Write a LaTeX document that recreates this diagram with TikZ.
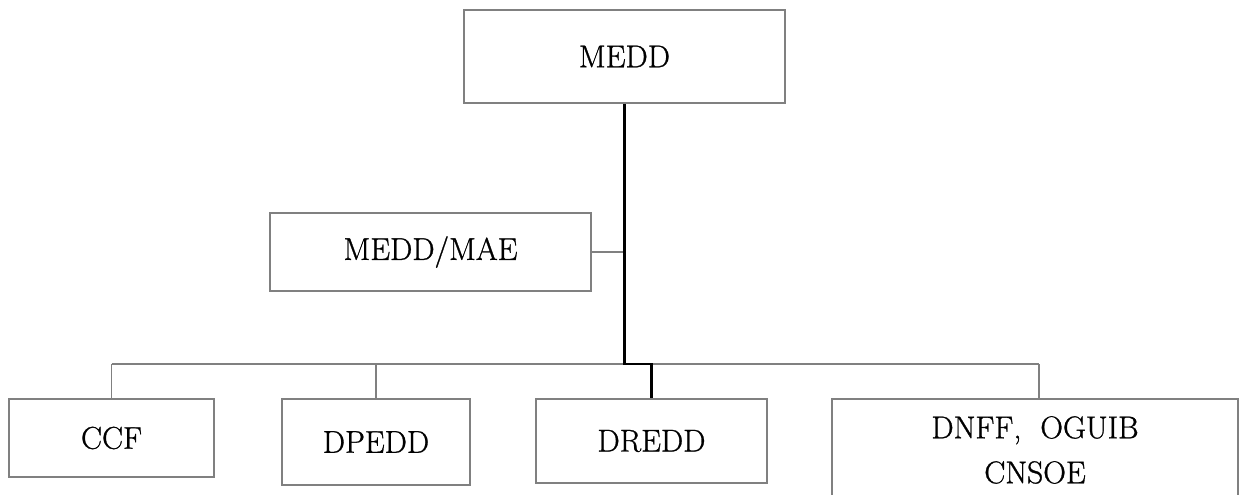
\documentclass[tikz,border=0pt]{standalone}
\usepackage{fontspec}
\usetikzlibrary{calc}
\newfontfamily\labelfont{Latin Modern Roman}[FakeBold=0.9]
\definecolor{boxgray}{RGB}{128,128,128}
\begin{document}
\begin{tikzpicture}[x=1pt,y=-1pt,
  unit/.style={draw=boxgray, line width=1.6pt, inner sep=0pt, align=center,
    font=\labelfont\fontsize{31.5}{45}\selectfont},
  link/.style={draw=boxgray, line width=1.5pt},
  trunk/.style={draw=black, line width=2.2pt}]
  \useasboundingbox (0,0) rectangle (1239,495);
  \clip (0,0) rectangle (1239,495);

  % boxes
  \node[unit, minimum width=321pt, minimum height=93pt] (medd) at (624.5,56.5) {MEDD};
  \node[unit, minimum width=321pt, minimum height=78pt] (mae) at (430.5,252) {MEDD/MAE};
  \node[unit, minimum width=205pt, minimum height=78pt] (ccf) at (111.5,438) {CCF};
  \node[unit, minimum width=188pt, minimum height=86pt] (dpedd) at (376,442) {DPEDD};
  \node[unit, minimum width=231pt, minimum height=84pt] (dredd) at (651.5,441) {DREDD};
  \node[unit, minimum width=406pt, minimum height=102pt] (dnff) at (1035,450) {DNFF,\ \ OGUIB\\CNSOE};

  % bus and junction points
  \coordinate (j) at (624.5,364);
  \coordinate (jr) at (651.5,364);
  \coordinate (b1) at (111.5,364);
  \coordinate (b2) at (376,364);
  \coordinate (b4) at (1039,364);

  % grey links
  \draw[link] (b1) -- (b4);
  \draw[link] (b1) -- (ccf.north);
  \draw[link] (b2) -- (dpedd.north);
  \draw[link] (b4) -- (b4 |- dnff.north);
  \draw[link] (mae.east) -- (mae.east -| j);

  % main trunk
  \draw[trunk] (medd.south) -- (j) -- (jr) -- (dredd.north);
\end{tikzpicture}
\end{document}
